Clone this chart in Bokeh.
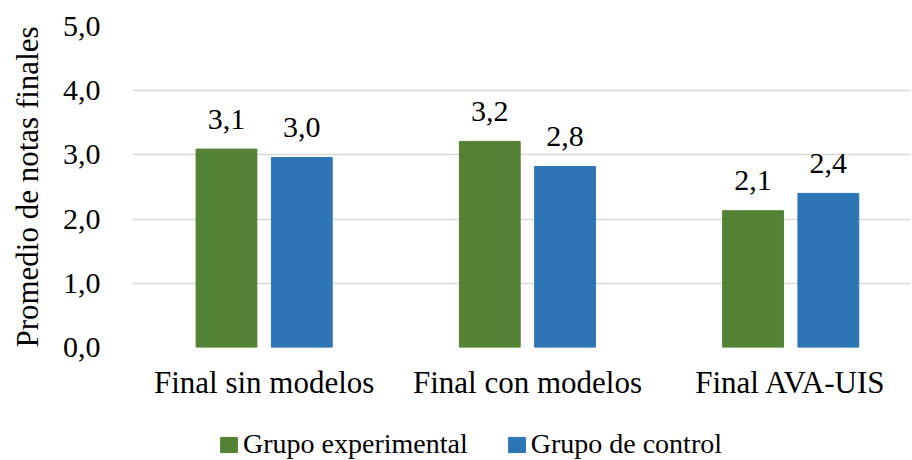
import numpy as np
from bokeh.plotting import figure
from bokeh.layouts import column
from bokeh.models import (ColumnDataSource, Range1d, FixedTicker,
                          CustomJSTickFormatter, Legend, LegendItem)
from bokeh.transform import dodge
from bokeh.core.properties import value
from bokeh.embed import file_html
from bokeh.resources import INLINE

# ---- data ----
categories = ["Final sin modelos", "Final con modelos", "Final AVA-UIS"]
experimental = [3.09, 3.21, 2.13]
control = [2.96, 2.82, 2.40]
series_names = ["Grupo experimental", "Grupo de control"]
y_ticks = [0, 1, 2, 3, 4, 5]
y_title = "Promedio de notas finales"

FONT = "Liberation Serif"
GREEN = "#548235"
BLUE = "#2E75B6"
GRID = "#D9D9D9"

pos = [i + 0.5 for i in range(len(categories))]


def fmt(v):
    return f"{v:.1f}".replace(".", ",")


src = ColumnDataSource(dict(
    x=pos,
    exp=experimental,
    ctl=control,
    exp_lbl=[fmt(v) for v in experimental],
    ctl_lbl=[fmt(v) for v in control],
))

p = figure(width=910, height=426, output_backend="svg", toolbar_location=None,
           x_range=Range1d(0, 2.955), y_range=Range1d(0, 5),
           min_border_left=132, min_border_right=0, min_border_top=26,
           min_border_bottom=79)
p.outline_line_color = None
p.background_fill_color = "white"
p.border_fill_color = "white"

OFF = 0.143
BW = 0.231
r1 = p.vbar(x=dodge("x", -OFF, range=p.x_range), top="exp", width=BW, source=src,
            fill_color=GREEN, line_color=GREEN)
r2 = p.vbar(x=dodge("x", OFF, range=p.x_range), top="ctl", width=BW, source=src,
            fill_color=BLUE, line_color=BLUE)

for col, lbl, off in (("exp", "exp_lbl", -OFF), ("ctl", "ctl_lbl", OFF)):
    p.text(x=dodge("x", off, range=p.x_range), y=col, text=lbl, source=src,
           text_align="center", text_baseline="alphabetic", y_offset=-30,
           text_font=value(FONT), text_font_size="30px", text_color="black")

# y axis
p.yaxis.ticker = FixedTicker(ticks=y_ticks)
p.yaxis.formatter = CustomJSTickFormatter(code="return tick.toFixed(1).replace('.', ',');")
p.yaxis.axis_line_color = None
p.yaxis.major_tick_line_color = None
p.yaxis.minor_tick_line_color = None
p.yaxis.major_label_standoff = 26
p.yaxis.major_label_text_font = FONT
p.yaxis.major_label_text_font_size = "30px"
p.yaxis.major_label_text_color = "black"
p.yaxis.axis_label = y_title
p.yaxis.axis_label_text_font = FONT
p.yaxis.axis_label_text_font_size = "31px"
p.yaxis.axis_label_text_font_style = "normal"
p.yaxis.axis_label_text_color = "black"
p.yaxis.axis_label_standoff = 15

# x axis
p.xaxis.ticker = FixedTicker(ticks=pos)
p.xaxis.major_label_overrides = {x: c for x, c in zip(pos, categories)}
p.xaxis.axis_line_color = None
p.xaxis.major_tick_line_color = None
p.xaxis.minor_tick_line_color = None
p.xaxis.major_label_standoff = 11
p.xaxis.major_label_text_font = FONT
p.xaxis.major_label_text_font_size = "31px"
p.xaxis.major_label_text_color = "black"

p.xgrid.grid_line_color = None
p.ygrid.ticker = FixedTicker(ticks=y_ticks)
p.ygrid.grid_line_color = GRID
p.ygrid.grid_line_width = 1.5

# ---- legend strip below the chart (its bars lie outside its view) ----
lg = figure(width=910, height=34, output_backend="svg", toolbar_location=None,
            x_range=Range1d(0, 2.955), y_range=Range1d(6, 7), min_border=0)
lg.axis.visible = False
lg.grid.visible = False
lg.outline_line_color = None
lg.border_fill_color = "white"
g1 = lg.vbar(x="x", top="exp", width=BW, source=src, fill_color=GREEN, line_color=GREEN)
g2 = lg.vbar(x="x", top="ctl", width=BW, source=src, fill_color=BLUE, line_color=BLUE)

legend = Legend(items=[LegendItem(label=series_names[0], renderers=[g1]),
                       LegendItem(label=series_names[1], renderers=[g2])],
                orientation="horizontal", location=(86, 0),
                label_text_font=FONT, label_text_font_size="28px",
                label_text_color="black",
                glyph_width=21, glyph_height=19, label_standoff=4, spacing=38,
                padding=0, margin=0, border_line_color=None,
                background_fill_alpha=0)
lg.add_layout(legend)

layout = column(p, lg, spacing=0)
open("out.html", "w").write(file_html(layout, INLINE))
